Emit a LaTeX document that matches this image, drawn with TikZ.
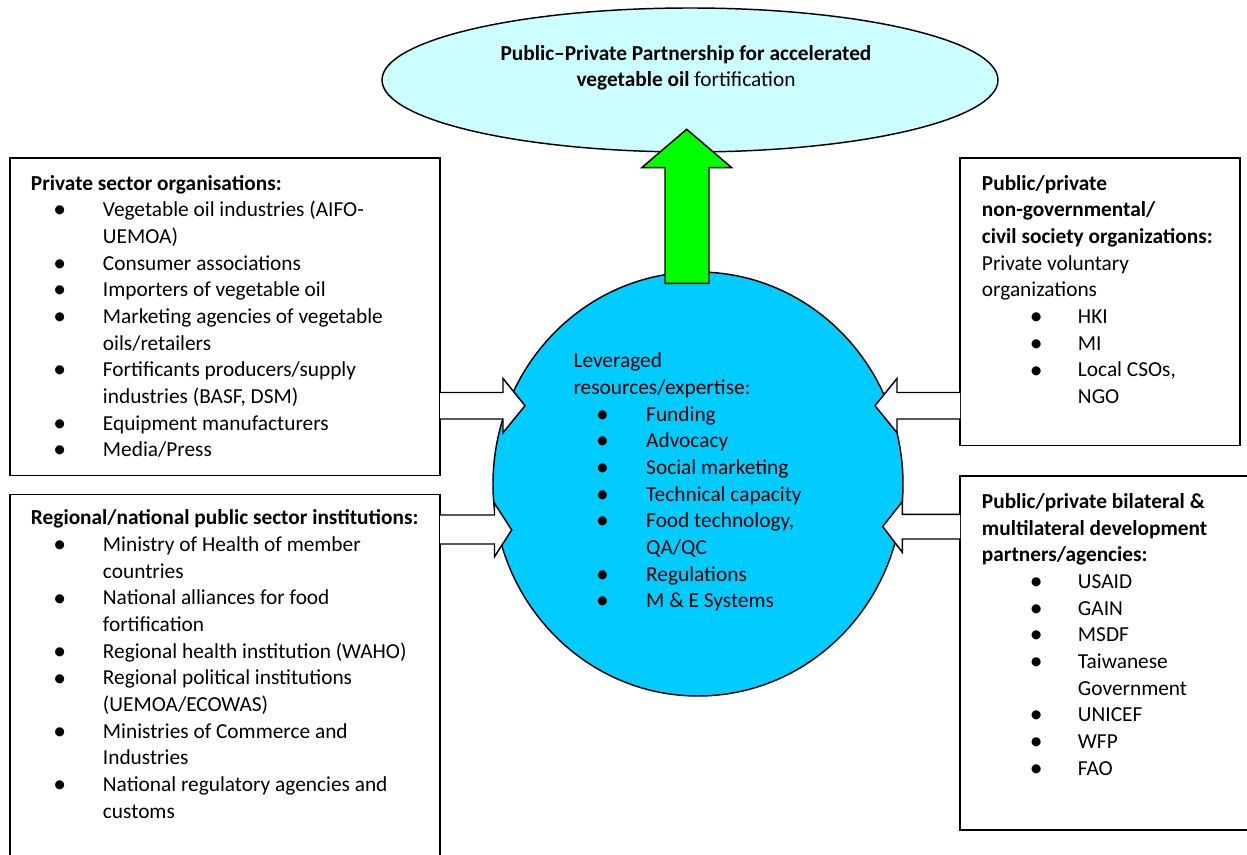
\documentclass[tikz,border=0pt]{standalone}
\usepackage{fontspec}
\setmainfont{Carlito}
\usetikzlibrary{shapes.geometric}
\definecolor{lightcyan}{HTML}{CCFFFF}
\definecolor{hubblue}{HTML}{00CCFF}
\definecolor{brightgreen}{HTML}{00FF00}
\newcommand\bdot{\raisebox{-0.06em}{\scalebox{1.2}{\textbullet}}}
\newcommand\bul[3]{\makebox[#2][l]{\hspace*{#1}\makebox[0pt]{\bdot}}#3}
\newcommand\cnt[2]{\hspace*{#1}#2}
\begin{document}
\begin{tikzpicture}[x=0.75pt,y=-0.75pt,
  txt/.style={anchor=base west,align=left,inner sep=0pt,font=\fontsize{16}{20}\selectfont},
  shapeline/.style={draw=black,line width=1.1pt},
  blockarrow/.style={fill=white,draw=black,line width=1.1pt,line join=miter},
  boxline/.style={draw=black,line width=1.1pt}]
\useasboundingbox (0,0) rectangle (1247,855);
\fill[white] (0,0) rectangle (1247,855);

% shapes
\node[ellipse,shapeline,fill=lightcyan,minimum width=462pt,minimum height=108pt,inner sep=0pt] (top) at (690,80) {};
\node[ellipse,shapeline,fill=hubblue,minimum width=307.5pt,minimum height=318pt,inner sep=0pt] (hub) at (698,484) {};

% boxes
\draw[boxline] (10,158) rectangle (440,475.5);
\coordinate (pubtl) at (10,494.5);
\draw[boxline] (10,860) -- (pubtl) -- (440,494.5) -- (440,860);
\draw[boxline] (960,158) rectangle (1240,445.5);
\draw[boxline] (1260,476) -- (960,476) -- (960,830) -- (1260,830);

% block arrows
\filldraw[blockarrow] (440,392.5) -- (503,392.5) -- (503,378.5) -- (525,405.7) -- (503,432.8) -- (503,419) -- (440,419);
\filldraw[blockarrow] (440,515) -- (494.5,515) -- (494.5,503.3) -- (511.7,530) -- (494.5,556.7) -- (494.5,544) -- (440,544);
\filldraw[blockarrow] (960,392.5) -- (897,392.5) -- (897,378.5) -- (875,405.7) -- (897,432.8) -- (897,419) -- (960,419);
\filldraw[blockarrow] (960,514.3) -- (902.3,514.3) -- (902.3,501.7) -- (882.7,526.5) -- (902.3,552.3) -- (902.3,539) -- (960,539);
\filldraw[blockarrow,fill=brightgreen] (665,283.3) -- (665,167.7) -- (641.7,167.7) -- (686.7,129.3) -- (731.7,167.7) -- (709,167.7) -- (709,283.3) -- cycle;

% texts (anchor = baseline of the last line)
\node[txt,anchor=base,align=center] (ttop) at (686,87) {\textbf{Public–Private Partnership for accelerated}\\\textbf{vegetable oil} fortification};

\node[txt] (tpriv) at (30.7,456.7) {\textbf{Private sector organisations:}\\
\bul{21.5pt}{54pt}{Vegetable oil industries (AIFO-}\\
\cnt{54pt}{UEMOA)}\\
\bul{21.5pt}{54pt}{Consumer associations}\\
\bul{21.5pt}{54pt}{Importers of vegetable oil}\\
\bul{21.5pt}{54pt}{Marketing agencies of vegetable}\\
\cnt{54pt}{oils/retailers}\\
\bul{21.5pt}{54pt}{Fortificants producers/supply}\\
\cnt{54pt}{industries (BASF, DSM)}\\
\bul{21.5pt}{54pt}{Equipment manufacturers}\\
\bul{21.5pt}{54pt}{Media/Press}};

\node[txt] (tpub) at (30.7,818.3) {\textbf{Regional/national public sector institutions:}\\
\bul{21.5pt}{54pt}{Ministry of Health of member}\\
\cnt{54pt}{countries}\\
\bul{21.5pt}{54pt}{National alliances for food}\\
\cnt{54pt}{fortification}\\
\bul{21.5pt}{54pt}{Regional health institution (WAHO)}\\
\bul{21.5pt}{54pt}{Regional political institutions}\\
\cnt{54pt}{(UEMOA/ECOWAS)}\\
\bul{21.5pt}{54pt}{Ministries of Commerce and}\\
\cnt{54pt}{Industries}\\
\bul{21.5pt}{54pt}{National regulatory agencies and}\\
\cnt{54pt}{customs}};

\node[txt] (tngo) at (981.7,403.6) {\textbf{Public/private}\\
\textbf{non-governmental/}\\
\textbf{civil society organizations:}\\
Private voluntary\\
organizations\\
\bul{40.7pt}{72pt}{HKI}\\
\bul{40.7pt}{72pt}{MI}\\
\bul{40.7pt}{72pt}{Local CSOs,}\\
\cnt{72pt}{NGO}};

\node[txt] (tdev) at (981.7,775) {\textbf{Public/private bilateral \&}\\
\textbf{multilateral development}\\
\textbf{partners/agencies:}\\
\bul{40.7pt}{72pt}{USAID}\\
\bul{40.7pt}{72pt}{GAIN}\\
\bul{40.7pt}{72pt}{MSDF}\\
\bul{40.7pt}{72pt}{Taiwanese}\\
\cnt{72pt}{Government}\\
\bul{40.7pt}{72pt}{UNICEF}\\
\bul{40.7pt}{72pt}{WFP}\\
\bul{40.7pt}{72pt}{FAO}};

\node[txt] (thub) at (573.3,607.7) {Leveraged\\
resources/expertise:\\
\bul{21.75pt}{54.5pt}{Funding}\\
\bul{21.75pt}{54.5pt}{Advocacy}\\
\bul{21.75pt}{54.5pt}{Social marketing}\\
\bul{21.75pt}{54.5pt}{Technical capacity}\\
\bul{21.75pt}{54.5pt}{Food technology,}\\
\cnt{54.5pt}{QA/QC}\\
\bul{21.75pt}{54.5pt}{Regulations}\\
\bul{21.75pt}{54.5pt}{M \& E Systems}};
\end{tikzpicture}
\end{document}
